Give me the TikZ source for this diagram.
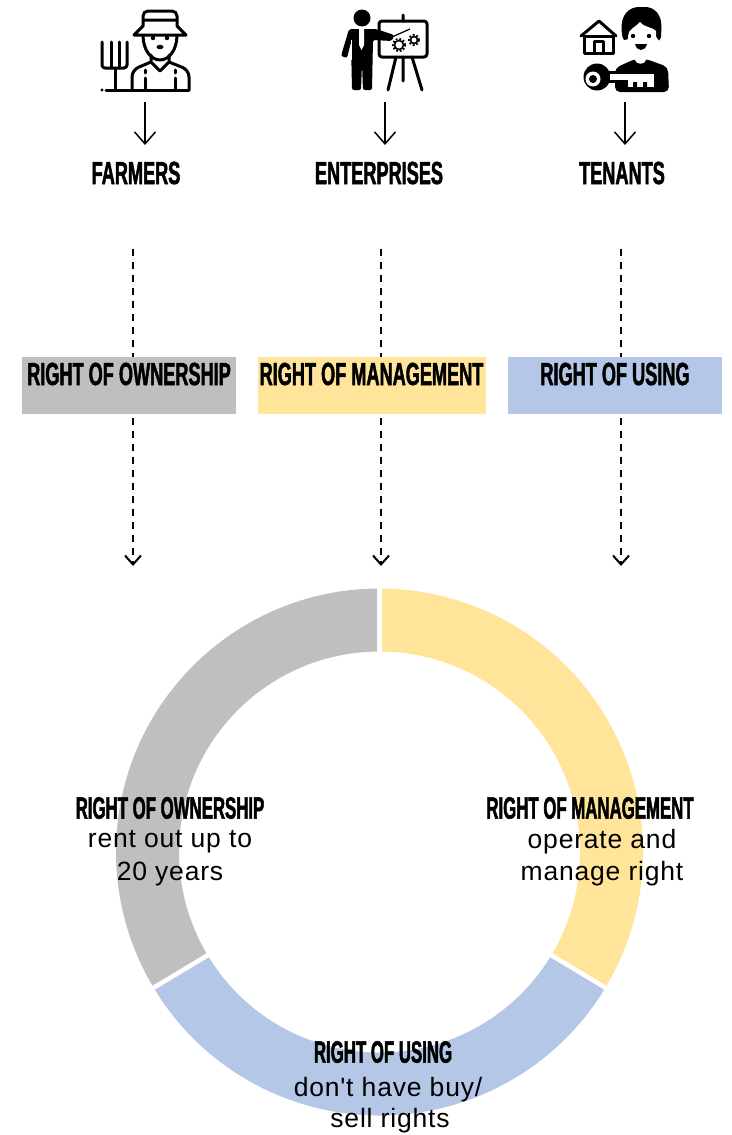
\documentclass[tikz,border=0pt]{standalone}
\usepackage{fontspec}
\setmainfont{Liberation Sans}
\newfontfamily\headfont[FakeStretch=0.567,FakeBold=1.5]{Liberation Sans Bold}
\newfontfamily\ringfont[FakeStretch=0.542,FakeBold=1.5]{Liberation Sans Bold}
\newfontfamily\bodyfont[LetterSpace=3]{Liberation Sans}
\usetikzlibrary{arrows.meta, positioning}
\definecolor{owngray}{HTML}{BFBFBF}
\definecolor{manyellow}{HTML}{FFE499}
\definecolor{usingblue}{HTML}{B4C7E7}

\begin{document}
\begin{tikzpicture}[x=1pt,y=-1pt,
  >={Straight Barb[length=12pt,width=21pt]},
  plain arrow/.style={->,line width=1.5pt},
  dash arrow/.style={->,line width=2pt,dash pattern=on 7pt off 6pt,>={Straight Barb[length=9pt,width=16pt]}},
  who node/.style={font=\headfont\fontsize{32}{32}\selectfont,text=black,inner sep=0pt},
  right box/.style={minimum height=57pt,inner sep=0pt,anchor=north west},
  head node/.style={font=\ringfont\fontsize{31}{31}\selectfont,inner sep=0pt},
  body node/.style={font=\bodyfont\fontsize{26.5}{26.5}\selectfont,inner sep=0pt},
  ring part/.style={line width=63pt},
  ring gap/.style={white,line width=4.5pt},
  icon line/.style={line width=3pt,line join=round,line cap=round}]
  \useasboundingbox (0,0) rectangle (731,1135);

  % farmer
  \draw[icon line,rounded corners=5pt] (143,26) -- (143,11) -- (177,11) -- (177,26);
  \draw[icon line] (143,20) -- (177,20) (143,26) -- (134,35) -- (186,35) -- (177,26);
  \draw[icon line] (143,35) .. controls (143,50) and (151,60) .. (160,60) .. controls (169,60) and (177,50) .. (177,35);
  \fill (153,38) circle (2.2pt) (167,38) circle (2.2pt) (160,47) ellipse (3.5pt and 2.2pt);
  \draw[icon line] (151,55) -- (151,62) -- (160,71) -- (169,62) -- (169,55);
  \draw[icon line,rounded corners=7pt] (132,90) -- (132,70) -- (151,62) (169,62) -- (189,70) -- (189,90);
  \draw[icon line] (145,70) -- (145,73) (145,78) -- (145,90) (175,70) -- (175,73) (175,78) -- (175,90);
  \draw[icon line] (106,90) -- (189,90);
  \fill (102,90) circle (1.7pt);
  \draw[icon line,rounded corners=3pt] (102,42) -- (102,68) -- (127,68) -- (127,42);
  \draw[icon line] (111,42) -- (111,68) (119,42) -- (119,68) (115,68) -- (115,90);

  % trainer and board
  \fill (362,18) circle (8.5pt);
  \fill[rounded corners=2pt] (349,29) -- (376,29) -- (394,35) -- (392,41) -- (373,40) -- (372,90) -- (363,90) -- (362,64) -- (361,90) -- (352,90) -- (351,42) -- (347,58) -- (341,56) -- cycle;
  \fill[white] (359,29) -- (364,29) -- (364,45) -- (361.5,50) -- (359,45) -- cycle;
  \draw[white,line width=1pt] (351,40) -- (351,60);
  \draw[icon line,rounded corners=3pt] (379,21) rectangle (427,57);
  \draw[icon line] (403,15) -- (403,21) (403,57) -- (403,81) (388,90) -- (396,57) (422,90) -- (412,57);
  \draw[line width=1.2pt] (392,37) -- (410,29);
  \draw[line width=1.6pt] (399,45) circle (4.5pt) (414,40) circle (3.5pt);
  \draw[line width=2pt,dash pattern=on 1.8pt off 1.8pt] (399,45) circle (6pt) (414,40) circle (5pt);

  % tenant with house and key
  \draw[icon line] (581,36) -- (599,21) -- (616,36);
  \draw[icon line] (584,36) -- (613,36) (584,36) -- (584,53) -- (613,53) -- (613,36);
  \draw[icon line] (594,53) -- (594,41) -- (603,41) -- (603,53);
  \fill[rounded corners=3pt] (622,34) .. controls (620,14) and (630,7) .. (642,7) .. controls (654,7) and (663,14) .. (661,34) -- (661,40) -- (657,40) -- (656,34) -- (623,40) -- cycle;
  \fill[rounded corners=2pt] (623,34) rectangle (627,40);
  \fill[white] (628,36) .. controls (628,29) and (636,27) .. (640,22) .. controls (645,28) and (653,27) .. (656,31) .. controls (657,46) and (650,55) .. (641,55) .. controls (633,55) and (628,46) .. (628,36) -- cycle;
  \fill (633,36) circle (2.2pt) (649,36) circle (2.2pt);
  \fill (635,44) .. controls (637,52) and (645,52) .. (647,44) -- cycle;
  \fill[rounded corners=5pt] (615,68) -- (635,59) -- (646,59) -- (668,67) -- (669,92) -- (615,92) -- cycle;
  \fill[white] (635,56) -- (646,56) -- (646,60) .. controls (645,65) and (636,65) .. (635,60) -- cycle;
  \fill (597,77) circle (13.5pt);
  \fill[white] (593,79) circle (7.5pt);
  \fill (593,79) circle (4pt);
  \fill (608,71) rectangle (616,83);
  \fill[white] (610,74) rectangle (654,80);
  \fill[white] (628,80) rectangle (654,87);
  \fill (633,82) rectangle (637,87) (643,82) rectangle (647,87);

  \node[who node] (farmers) at (136,173) {FARMERS};
  \node[who node] (enterprises) at (379,173) {ENTERPRISES};
  \node[who node] (tenants) at (622,173) {TENANTS};
  \coordinate (farmerfoot) at (145,102);
  \coordinate (trainerfoot) at (385,102);
  \coordinate (tenantfoot) at (625,102);
  \coordinate (farmertip) at (145,145);
  \coordinate (trainertip) at (385,145);
  \coordinate (tenanttip) at (625,145);
  \draw[plain arrow] (farmerfoot) -- (farmertip);
  \draw[plain arrow] (trainerfoot) -- (trainertip);
  \draw[plain arrow] (tenantfoot) -- (tenanttip);

  \coordinate (ownstart) at (133,249);
  \coordinate (manstart) at (381,249);
  \coordinate (usingstart) at (621,249);
  \coordinate (ownend) at (133,566);
  \coordinate (manend) at (381,566);
  \coordinate (usingend) at (621,566);
  \draw[dash arrow] (ownstart) -- (ownend);
  \draw[dash arrow] (manstart) -- (manend);
  \draw[dash arrow] (usingstart) -- (usingend);

  \node[right box,fill=owngray,minimum width=214pt] (ownbox) at (22,357) {};
  \node[right box,fill=manyellow,minimum width=228pt] (manbox) at (258,357) {};
  \node[right box,fill=usingblue,minimum width=214pt] (usingbox) at (508,357) {};
  \node[who node] (ownlabel) at (129,374) {RIGHT OF OWNERSHIP};
  \node[who node] (manlabel) at (371.5,374) {RIGHT OF MANAGEMENT};
  \node[who node] (usinglabel) at (615,374) {RIGHT OF USING};

  \coordinate (ringcenter) at (379.5,852);
  \draw[ring part,owngray] ([shift={(90:232pt)}]ringcenter) arc[start angle=90,end angle=211,radius=232pt];
  \draw[ring part,usingblue] ([shift={(211:232pt)}]ringcenter) arc[start angle=211,end angle=329,radius=232pt];
  \draw[ring part,manyellow] ([shift={(329:232pt)}]ringcenter) arc[start angle=329,end angle=450,radius=232pt];
  \draw[ring gap] ([shift={(90:198pt)}]ringcenter) -- ([shift={(90:266pt)}]ringcenter);
  \draw[ring gap] ([shift={(211:198pt)}]ringcenter) -- ([shift={(211:266pt)}]ringcenter);
  \draw[ring gap] ([shift={(329:198pt)}]ringcenter) -- ([shift={(329:266pt)}]ringcenter);

  \node[head node] (ownhead) at (170,808) {RIGHT OF OWNERSHIP};
  \node[body node] (ownrent) at (170,842) {rent out up to};
  \node[body node] (ownyears) at (170,874) {20 years};
  \node[head node] (manhead) at (590,808) {RIGHT OF MANAGEMENT};
  \node[body node] (manoperate) at (602,842) {operate and};
  \node[body node] (manright) at (602,874) {manage right};
  \node[head node] (usinghead) at (383,1052) {RIGHT OF USING};
  \node[body node] (usingbuy) at (388,1090) {don't have buy/};
  \node[body node] (usingsell) at (390,1121) {sell rights};
\end{tikzpicture}
\end{document}
